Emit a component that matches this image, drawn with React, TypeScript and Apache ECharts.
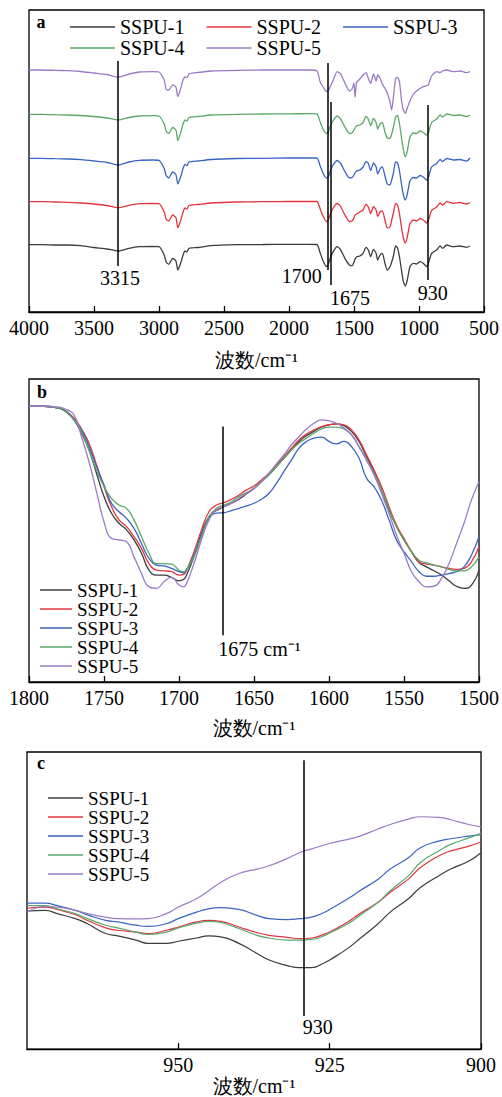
import React, { useEffect, useRef } from "react";
import * as echarts from "echarts";

const SERIF = "Liberation Serif";

const NAMES = ["SSPU-1", "SSPU-2", "SSPU-3", "SSPU-4", "SSPU-5"];
const COLORS = ["#3c3c3c", "#e4343e", "#3a64c2", "#5aa86a", "#9b7bc6"];

// ---------- Panel a: full spectra (offset, arbitrary units) ----------
const WN_A = [
  4000, 3900, 3800, 3700, 3600, 3500, 3400, 3315, 3230, 3150,
  3050, 3000, 2960, 2945, 2925, 2895, 2870, 2855, 2830, 2815,
  2800, 2785, 2770, 2700, 2600, 2400, 2200, 2000, 1850, 1785,
  1760, 1735, 1710, 1695, 1685, 1660, 1630, 1605, 1570, 1535,
  1515, 1500, 1492, 1480, 1455, 1430, 1408, 1390, 1372, 1350,
  1330, 1318, 1300, 1282, 1262, 1244, 1223, 1210, 1195, 1180,
  1165, 1150, 1135, 1120, 1105, 1090, 1070, 1045, 1018, 992,
  967, 941, 928, 903, 864, 838, 818, 787, 736, 685, 633, 608,
];
const A1 = [
  67.3, 67.3, 67, 67, 66.3, 64.5, 63, 61, 63.7, 65.3,
  65.5, 65.3, 57, 50, 47.7, 53.7, 51, 42, 50.3, 57,
  61, 60, 63.7, 64.5, 66.3, 67.3, 67.5, 67.7, 67.7, 67.5,
  59, 50.3, 45.3, 49, 53, 60.3, 65.3, 62.7, 53.7, 47,
  46.3, 50, 53, 55.3, 56, 58.7, 64.7, 62, 55.3, 62.7,
  58.7, 52, 57, 58.7, 48.7, 42, 45.3, 50, 57, 66,
  64, 55, 42, 30.3, 26, 32, 45.3, 48.7, 48, 50.3,
  48.7, 45.3, 48.7, 58.7, 62, 66, 63.7, 67, 65.3, 66, 64.7, 66,
];
const A2 = [
  110.3, 110.3, 110, 109.7, 109, 108, 106.5, 104.3, 106.7, 108.3,
  108.5, 108.3, 100, 93, 91, 97, 94.5, 84.3, 93, 100,
  104, 103, 106.5, 107.5, 109, 110, 110.3, 110.5, 110.5, 110.5,
  103, 95, 90.3, 93, 97, 104, 108.5, 106, 97, 90.5,
  91, 94, 97, 98, 100, 102, 107.7, 105, 98.5, 105.5,
  102, 95.5, 100, 101, 92, 84, 85, 92, 100, 108.5,
  107, 98, 85, 74, 69, 75, 88, 92, 91, 93.5,
  92, 89, 91.5, 101.7, 105, 109, 107, 110.3, 108.7, 109.5, 108, 109.5,
];
const A3 = [
  153.7, 153.7, 153.3, 153, 152.3, 151, 149.5, 147, 150, 151.7,
  152, 151.7, 143.5, 136.5, 134, 140, 137.5, 128, 136.5, 143.5,
  147.5, 146.5, 150, 151, 152.5, 153.5, 153.7, 154, 154, 154,
  146, 138, 134, 136, 140, 147, 151.5, 149, 140.5, 134,
  134.5, 137, 139, 141, 142, 145, 150.5, 148.5, 141.5, 149,
  145, 138, 143, 145, 136, 128, 127, 132, 140, 150,
  149, 141, 128, 117, 112, 118, 131, 134.5, 134, 136.5,
  135, 132, 134.5, 145, 148.5, 152.5, 150.5, 153.5, 152, 152.5, 151, 154,
];
const A4 = [
  197.7, 197.7, 197.3, 197, 196.5, 195.5, 194, 192, 194.5, 196,
  196.3, 196, 188, 181, 178.5, 184.5, 182, 171.3, 181, 188,
  192, 191, 194.5, 195.5, 197, 197.7, 198, 198.2, 198.3, 198,
  190, 182, 178.5, 181, 185, 191.5, 196, 193.5, 185, 178.5,
  179, 182, 184, 186, 187, 189.5, 195.5, 193, 186.5, 193.5,
  189.5, 183, 188, 189.5, 180, 174, 173.5, 178, 186, 195,
  196.5, 188, 175, 162, 155.3, 161, 175, 179, 178.5, 181,
  179.5, 177, 179, 189.5, 193, 197, 195, 198, 196.5, 197, 195.5, 197,
];
const A5 = [
  242, 242, 241.7, 241.3, 240.5, 239, 237.5, 234.7, 238, 240,
  240.3, 240, 232, 222.5, 222, 227, 225, 215.3, 225, 232,
  235, 234.5, 238, 239.5, 241, 241.7, 242, 242, 242, 241.3,
  230, 224.5, 220.3, 222, 224.7, 232, 240.3, 238.7, 229, 221,
  223, 229, 214.7, 229.5, 233, 237, 239.3, 233.7, 228.7, 238,
  231, 237, 234, 228, 223.7, 219, 210, 202, 217, 233.7,
  234.7, 230, 212, 202, 198.7, 204, 211, 217.5, 221, 223.5,
  225.3, 226.5, 227, 236, 240.3, 239.3, 241, 242, 240.3, 241, 239.3, 240.3,
];

// ---------- Panel b: 1800-1500 cm-1 ----------
const WN_B = [
  1800, 1790, 1780, 1775, 1770, 1765, 1760, 1755, 1750, 1745,
  1740, 1735, 1730, 1725, 1720, 1715, 1710, 1705, 1700, 1697,
  1695, 1690, 1685, 1680, 1675, 1670, 1665, 1660, 1655, 1650,
  1645, 1640, 1635, 1630, 1625, 1620, 1615, 1610, 1605, 1600,
  1595, 1590, 1585, 1580, 1575, 1570, 1565, 1560, 1555, 1550,
  1545, 1540, 1535, 1530, 1525, 1520, 1515, 1510, 1505, 1500,
];
const B1 = [
  91.0, 91.0, 90.4, 89.0, 86.5, 82.1, 76.6, 68.9, 61.2, 55.7,
  52.4, 50.2, 46.9, 42.5, 36.9, 35.3, 35.3, 34.5, 33.4, 33.8,
  35.3, 41.3, 49.1, 54.6, 56.6, 57.9, 59.0, 60.3, 62.1, 63.9,
  66.2, 68.4, 71.1, 73.9, 76.6, 79.4, 81.3, 82.7, 84.1, 84.9,
  85.2, 84.6, 82.7, 79.4, 74.4, 69.5, 63.4, 56.8, 51.3, 46.9,
  43.0, 39.4, 38.0, 36.7, 35.3, 33.4, 31.6, 30.9, 32.0, 36.9,
];
const B2 = [
  91.0, 91.0, 90.4, 89.3, 87.1, 83.5, 78.8, 71.7, 64.5, 57.9,
  53.5, 51.3, 48.0, 44.1, 39.1, 36.9, 36.7, 36.4, 35.3, 35.5,
  36.9, 43.0, 50.2, 56.2, 58.4, 59.2, 60.3, 61.7, 63.4, 64.7,
  66.7, 68.9, 71.7, 74.4, 77.2, 79.9, 81.8, 83.2, 84.3, 84.9,
  85.2, 84.9, 83.2, 79.9, 75.0, 70.0, 64.5, 57.9, 51.8, 47.4,
  43.0, 39.7, 38.9, 38.6, 38.0, 37.5, 37.2, 37.5, 39.7, 44.7,
];
const B3 = [
  91.0, 91.0, 90.4, 89.3, 86.5, 83.2, 77.7, 71.1, 65.0, 59.0,
  56.2, 54.0, 50.7, 45.7, 40.8, 38.6, 38.3, 37.5, 36.4, 36.0,
  36.9, 41.9, 48.5, 54.0, 55.7, 55.9, 56.6, 57.3, 58.1, 59.0,
  60.3, 62.3, 65.6, 69.5, 73.3, 77.2, 79.4, 80.5, 80.8, 79.4,
  78.6, 79.4, 77.7, 73.9, 67.3, 64.5, 60.1, 53.5, 46.9, 43.0,
  39.7, 36.4, 34.9, 34.9, 35.3, 35.8, 36.4, 38.0, 41.9, 48.0,
];
const B4 = [
  91.0, 91.0, 90.4, 89.0, 86.5, 82.7, 76.6, 69.9, 64.5, 60.6,
  58.4, 57.3, 53.5, 48.0, 42.5, 39.1, 39.1, 38.9, 36.9, 36.4,
  37.2, 41.3, 48.0, 54.6, 57.3, 58.4, 59.5, 61.2, 62.5, 63.9,
  66.2, 68.4, 71.1, 73.9, 76.6, 78.8, 80.5, 82.1, 83.5, 84.1,
  84.1, 83.5, 81.6, 77.7, 73.3, 68.9, 63.4, 57.3, 51.3, 46.9,
  43.0, 40.2, 39.3, 38.6, 38.0, 37.2, 36.7, 36.7, 38.0, 41.3,
];
const B5 = [
  91.0, 91.0, 90.7, 89.9, 88.2, 81.0, 72.7, 62.8, 52.9, 47.4,
  46.9, 46.3, 41.3, 35.8, 31.4, 30.9, 33.1, 34.5, 32.0, 31.4,
  32.5, 39.1, 46.9, 53.5, 56.8, 57.9, 59.0, 60.6, 62.3, 63.9,
  66.2, 68.9, 72.0, 75.0, 78.3, 81.0, 83.5, 85.4, 86.5, 86.2,
  85.4, 83.8, 81.6, 77.7, 73.3, 68.4, 62.3, 55.7, 48.5, 42.5,
  36.4, 33.1, 31.4, 31.6, 34.2, 39.1, 45.7, 52.4, 60.1, 66.2,
];

// ---------- Panel c: 975-900 cm-1 ----------
const WN_C = [
  975, 972, 970, 967, 965, 962, 960, 957, 955, 952,
  950, 947, 945, 943, 940, 937, 935, 932, 930, 928,
  926, 925, 922, 920, 917, 915, 912, 910, 907, 905, 902, 900,
];
const C1 = [
  46.4, 46.7, 45.6, 43.9, 42.2, 38.9, 38.1, 36.7, 35.6, 35.6,
  36.3, 37.4, 38.1, 37.8, 35.6, 32.2, 30.0, 28.1, 27.4, 27.4,
  28.9, 30.0, 33.9, 37.2, 42.2, 46.1, 50.6, 54.4, 58.3, 60.6, 63.3, 66.1,
];
const C2 = [
  47.4, 47.8, 47.0, 45.2, 43.3, 40.8, 40.0, 39.4, 38.9, 40.0,
  41.1, 42.8, 43.3, 43.0, 41.1, 39.2, 38.3, 37.6, 37.2, 37.4,
  38.6, 39.4, 42.8, 45.6, 49.4, 52.8, 57.2, 61.1, 65.0, 66.7, 68.3, 69.7,
];
const C3 = [
  49.1, 49.1, 48.3, 46.7, 45.2, 43.3, 42.8, 41.7, 41.3, 42.2,
  43.9, 46.1, 47.2, 47.6, 47.0, 45.0, 43.9, 43.6, 43.9, 44.4,
  45.9, 47.0, 50.6, 53.3, 57.2, 60.6, 64.4, 67.8, 70.0, 70.8, 71.7, 72.2,
];
const C4 = [
  48.3, 48.3, 47.2, 45.6, 43.9, 41.7, 40.8, 39.4, 38.6, 39.4,
  40.8, 42.4, 43.0, 42.6, 40.6, 38.3, 37.4, 36.7, 36.7, 36.9,
  38.1, 39.1, 42.2, 45.0, 49.4, 53.3, 58.3, 62.8, 66.7, 68.9, 71.1, 72.6,
];
const C5 = [
  46.1, 48.0, 47.8, 46.7, 45.6, 44.4, 43.9, 43.8, 43.9, 45.6,
  47.8, 50.6, 53.3, 56.1, 59.1, 60.6, 61.7, 64.2, 66.1, 67.4,
  68.6, 69.2, 70.6, 71.7, 74.1, 75.6, 77.4, 78.2, 78.0, 77.2, 75.6, 74.8,
];

// Marker lines: wavenumber, lower and upper end (data units), label
const MARK_A = [
  { w: 3315, from: 46, to: 251, label: "3315", off: [2, 0], d: 2 },
  { w: 1702, from: 42, to: 249, label: "1700", off: [-26, -4], d: 0 },
  { w: 1677, from: 27, to: 210, label: "1675", off: [19, 0], d: 3 },
  { w: 933, from: 32, to: 207, label: "930", off: [5, 0], d: 3 },
];
const MARK_B = [{ w: 1671, from: 15.4, to: 84.3, label: "1675 cm⁻¹", off: [37, 0], d: 4 }];
const MARK_C = [{ w: 929.3, from: 11.1, to: 97.2, label: "930", off: [14, 0], d: 1 }];

const AXIS_TITLE = "波数/cm⁻¹";

function makeSeries(wn: number[], sets: number[][], gi: number, marks: any[], smooth: number | boolean, lw: number) {
  return sets.map((vals, i) => {
    const s: any = {
      type: "line",
      name: NAMES[i],
      xAxisIndex: gi,
      yAxisIndex: gi,
      data: wn.map((w, k) => [w, vals[k]]),
      symbol: "none",
      smooth,
      silent: true,
      lineStyle: { color: COLORS[i], width: lw },
      itemStyle: { color: COLORS[i] },
      emphasis: { disabled: true },
      z: 2,
    };
    if (i === 0) {
      s.markLine = {
        silent: true,
        symbol: "none",
        animation: false,
        lineStyle: { color: "#000", width: 1.5, type: "solid" },
        label: { show: true, position: "start", color: "#000", fontSize: 20, fontFamily: SERIF },
        data: marks.map((m) => [
          { coord: [m.w, m.from], label: { formatter: m.label, offset: m.off, distance: m.d } },
          { coord: [m.w, m.to] },
        ]),
      };
    }
    return s;
  });
}

function xAxisCfg(gi: number, min: number, max: number, interval: number, nameGap: number, extraLabel: any = {}) {
  return {
    gridIndex: gi,
    type: "value",
    min,
    max,
    interval,
    inverse: true,
    axisLine: { show: true, onZero: false, lineStyle: { color: "#000", width: 1.3 } },
    axisTick: { show: true, inside: true, length: 6, lineStyle: { color: "#000", width: 1.3 } },
    axisLabel: {
      color: "#000", fontSize: 20, fontFamily: SERIF, margin: 6,
      formatter: (v: number) => String(v), ...extraLabel,
    },
    splitLine: { show: false },
    name: AXIS_TITLE,
    nameLocation: "middle",
    nameGap,
    nameTextStyle: { color: "#000", fontSize: 20, fontFamily: SERIF },
  };
}

function yAxisCfg(gi: number, min: number, max: number) {
  return { gridIndex: gi, type: "value", min, max, show: false, splitLine: { show: false } };
}

const legendText = { color: "#000", fontSize: 20, fontFamily: SERIF };
const legendTextSmall = { color: "#000", fontSize: 19, fontFamily: SERIF };

export default function App() {
  const ref = useRef<HTMLDivElement>(null);
  useEffect(() => {
    if (!ref.current) return;
    const chart = echarts.init(ref.current, undefined, { renderer: "svg" });
    const gridBase = { show: true, borderColor: "#000", borderWidth: 1.3, backgroundColor: "transparent" };
    const legendBase = { icon: "rect", itemHeight: 1.5, padding: 0, selectedMode: false, textStyle: legendText };
    const option: any = {
      animation: false,
      backgroundColor: "#fff",
      textStyle: { fontFamily: SERIF },
      grid: [
        { ...gridBase, left: 29, top: 10, width: 455, height: 302 },
        { ...gridBase, left: 29, top: 379, width: 454, height: 303 },
        { ...gridBase, left: 27, top: 752, width: 454, height: 300 },
      ],
      xAxis: [
        xAxisCfg(0, 500, 4000, 500, 38),
        xAxisCfg(1, 1500, 1800, 50, 36),
        xAxisCfg(2, 900, 975, 25, 25, { showMaxLabel: false }),
      ],
      yAxis: [yAxisCfg(0, 0, 302), yAxisCfg(1, 0, 100), yAxisCfg(2, 0, 100)],
      legend: [
        { ...legendBase, data: NAMES.slice(0, 3), left: 70, top: 17, orient: "horizontal", itemWidth: 45, itemGap: 22 },
        { ...legendBase, data: NAMES.slice(3), left: 70, top: 38, orient: "horizontal", itemWidth: 45, itemGap: 22 },
        { ...legendBase, textStyle: legendTextSmall, data: NAMES, left: 40, top: 580.5, orient: "vertical", itemWidth: 32, itemGap: 0 },
        { ...legendBase, textStyle: legendTextSmall, data: NAMES, left: 48, top: 788.5, orient: "vertical", itemWidth: 35, itemGap: 0 },
      ],
      graphic: [
        { type: "text", x: 41, y: 22, style: { text: "a", font: "bold 18px " + SERIF, fill: "#000", align: "center", verticalAlign: "middle" } },
        { type: "text", x: 42, y: 392, style: { text: "b", font: "bold 18px " + SERIF, fill: "#000", align: "center", verticalAlign: "middle" } },
        { type: "text", x: 41, y: 763, style: { text: "c", font: "bold 18px " + SERIF, fill: "#000", align: "center", verticalAlign: "middle" } },
      ],
      series: [
        ...makeSeries(WN_A, [A1, A2, A3, A4, A5], 0, MARK_A, 0.2, 1.3),
        ...makeSeries(WN_B, [B1, B2, B3, B4, B5], 1, MARK_B, true, 1.3),
        ...makeSeries(WN_C, [C1, C2, C3, C4, C5], 2, MARK_C, true, 1.2),
      ],
    };
    chart.setOption(option);
    return () => chart.dispose();
  }, []);
  return <div ref={ref} style={{ position: "absolute", left: 0, top: 0, width: 502, height: 1097 }} />;
}
